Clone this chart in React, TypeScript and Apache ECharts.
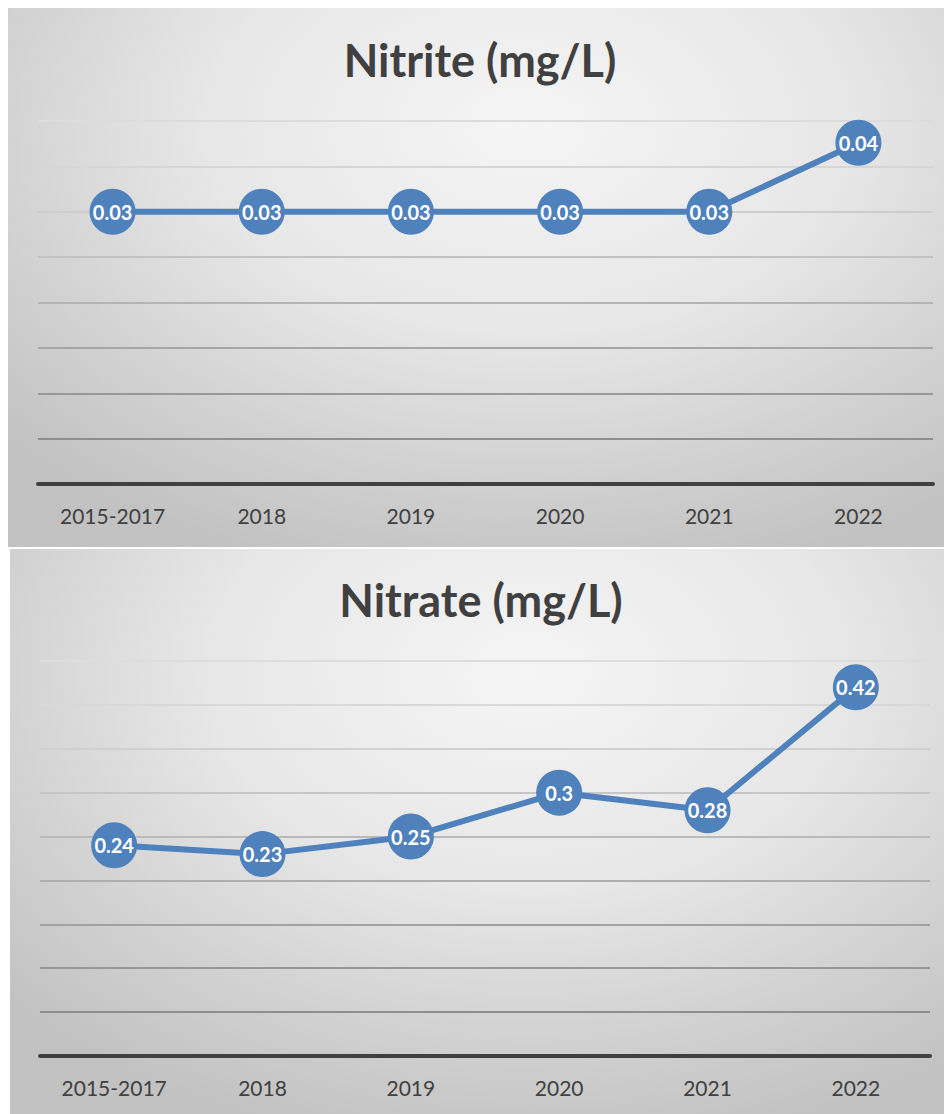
import React, { useEffect, useRef } from "react";
import * as echarts from "echarts";

const categories = ["2015-2017", "2018", "2019", "2020", "2021", "2022"];
const nitriteValues = [0.03, 0.03, 0.03, 0.03, 0.03, 0.0376];
const nitrateValues = [0.24, 0.23, 0.25, 0.3, 0.28, 0.42];
const nitriteTitle = "Nitrite (mg/L)";
const nitrateTitle = "Nitrate (mg/L)";

const FONT = "Lato, 'Open Sans', sans-serif";
const BLUE = "#4F81BD";

function fmt(v: number) {
  return String(Math.round(v * 100) / 100);
}

function buildOption(
  title: string,
  values: number[],
  max: number,
  interval: number,
  grid: { left: number; right: number; top: number; bottom: number },
  titleTop: number,
  gridColors: string[]
) {
  return {
    animation: false,
    backgroundColor: "transparent",
    title: {
      text: title,
      left: "center",
      top: titleTop,
      padding: [5, 0, 5, 10],
      textStyle: {
        fontFamily: FONT,
        fontWeight: "bold",
        fontSize: 45,
        color: "#404040",
      },
    },
    grid: { ...grid, containLabel: false },
    xAxis: {
      type: "category",
      data: categories,
      boundaryGap: true,
      axisLine: { show: true, lineStyle: { color: "#404040", width: 4 } },
      axisTick: { show: false },
      axisLabel: {
        color: "#404040",
        fontFamily: FONT,
        fontSize: 21,
        margin: 21,
      },
      splitLine: { show: false },
      z: 3,
    },
    yAxis: {
      type: "value",
      min: 0,
      max,
      interval,
      axisLine: { show: false },
      axisTick: { show: false },
      axisLabel: { show: false },
      splitLine: { show: true, lineStyle: { color: gridColors, width: 2 } },
    },
    series: [
      {
        type: "line",
        data: values,
        symbol: "circle",
        symbolSize: 46,
        lineStyle: { color: BLUE, width: 6 },
        itemStyle: { color: BLUE, borderWidth: 0 },
        label: {
          show: true,
          position: "inside",
          color: "#ffffff",
          fontFamily: FONT,
          fontWeight: "bold",
          fontSize: 20,
          formatter: (p: any) => fmt(p.value),
        },
        z: 4,
      },
    ],
  };
}

function Chart({
  style,
  option,
}: {
  style: React.CSSProperties;
  option: any;
}) {
  const ref = useRef<HTMLDivElement>(null);
  useEffect(() => {
    if (!ref.current) return;
    const chart = echarts.init(ref.current, undefined, { renderer: "svg" });
    chart.setOption(option);
    return () => chart.dispose();
  }, [option]);
  return <div ref={ref} style={style} />;
}

const bg =
  "radial-gradient(ellipse 75% 85% at 55% 22%, #f5f5f5 0%, #e7e7e7 45%, #d2d2d2 75%, #c2c2c2 100%)";

const topColors = [
  "#404040",
  "#8e8e8e",
  "#999999",
  "#a6a6a6",
  "#b4b4b4",
  "#c2c2c2",
  "#cdcdcd",
  "#d6d6d6",
  "#dcdcdc",
];
const bottomColors = [
  "#404040",
  "#8e8e8e",
  "#979797",
  "#a2a2a2",
  "#aeaeae",
  "#bababa",
  "#c6c6c6",
  "#d0d0d0",
  "#d8d8d8",
  "#dddddd",
];

const topOption = buildOption(
  nitriteTitle,
  nitriteValues,
  0.04,
  0.005,
  { left: 30, right: 19, top: 113, bottom: 63 },
  24,
  topColors
);
const bottomOption = buildOption(
  nitrateTitle,
  nitrateValues,
  0.45,
  0.05,
  { left: 30, right: 22, top: 112, bottom: 58 },
  23,
  bottomColors
);

export default function App() {
  return (
    <div style={{ position: "relative", width: 944, height: 1106 }}>
      <Chart
        option={topOption}
        style={{
          position: "absolute",
          left: 0,
          top: 0,
          width: 944,
          height: 539,
          background: bg,
        }}
      />
      <Chart
        option={bottomOption}
        style={{
          position: "absolute",
          left: 2,
          top: 541,
          width: 942,
          height: 565,
          background: bg,
        }}
      />
    </div>
  );
}
